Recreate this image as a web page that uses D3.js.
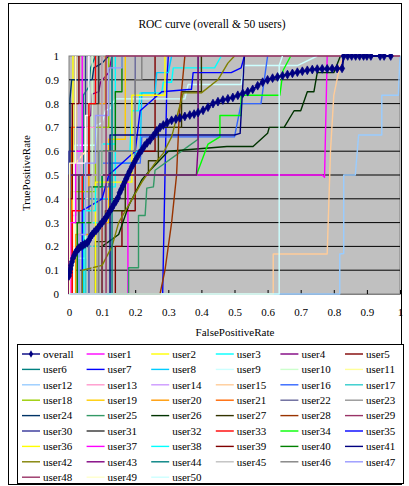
<!DOCTYPE html>
<html>
<head>
<meta charset="utf-8">
<script src="https://cdn.jsdelivr.net/npm/d3@7"></script>
<style>
body { margin: 0; background: #fff; }
svg text { font-family: "Liberation Serif", "DejaVu Serif", serif !important; }
</style>
</head>
<body>
<div id="chart"></div>
<script>
// ---- data (fpr, tpr) ----
var overall = [[0,0.076],[0.002,0.09],[0.004,0.105],[0.006,0.12],[0.009,0.135],[0.012,0.15],[0.016,0.163],[0.02,0.175],[0.025,0.185],[0.03,0.193],[0.036,0.2],[0.042,0.205],[0.048,0.21],[0.055,0.215],[0.06,0.225],[0.065,0.24],[0.07,0.25],[0.076,0.26],[0.082,0.268],[0.088,0.278],[0.094,0.29],[0.1,0.3],[0.106,0.31],[0.112,0.322],[0.118,0.335],[0.124,0.35],[0.13,0.362],[0.136,0.378],[0.142,0.39],[0.148,0.405],[0.153,0.425],[0.158,0.44],[0.163,0.455],[0.168,0.47],[0.173,0.485],[0.178,0.5],[0.183,0.515],[0.19,0.535],[0.197,0.553],[0.204,0.57],[0.212,0.59],[0.22,0.605],[0.228,0.622],[0.236,0.635],[0.245,0.647],[0.255,0.665],[0.265,0.685],[0.275,0.7],[0.285,0.71],[0.297,0.72],[0.31,0.73],[0.323,0.735],[0.335,0.74],[0.35,0.746],[0.365,0.752],[0.378,0.756],[0.39,0.762],[0.405,0.772],[0.42,0.785],[0.435,0.8],[0.45,0.808],[0.465,0.815],[0.48,0.82],[0.495,0.826],[0.51,0.835],[0.525,0.843],[0.54,0.85],[0.555,0.86],[0.57,0.875],[0.585,0.89],[0.6,0.9],[0.615,0.907],[0.63,0.912],[0.645,0.917],[0.66,0.922],[0.675,0.927],[0.69,0.932],[0.705,0.936],[0.72,0.94],[0.735,0.943],[0.75,0.945],[0.765,0.946],[0.78,0.946],[0.795,0.947],[0.81,0.947],[0.825,0.948],[0.83,1],[0.842,1],[0.854,1],[0.866,1],[0.878,1],[0.89,1],[0.9,1],[0.912,1],[0.94,1],[0.952,1],[0.972,1]];

var user1 = [[0,0],[0.178,0],[0.178,0.5],[0.765,0.5],[0.772,0.49],[0.78,1]];
var user2 = [[0,0],[0.012,0],[0.012,1]];
var user3 = [[0,0],[0.05,0],[0.05,0.3],[0.1,0.3],[0.1,0.45],[0.14,0.45],[0.14,0.6],[0.184,0.6],[0.19,0.77],[0.21,0.77],[0.215,0.845],[0.28,0.845],[0.285,0.89],[0.31,0.89],[0.315,0.95],[0.44,0.95],[0.46,1]];
var user4 = [[0,0],[0,0.33],[0.02,0.33],[0.02,0.5],[0.06,0.5],[0.06,0.745],[0.066,0.75],[0.07,0.84],[0.09,0.85],[0.095,0.89],[0.12,0.93],[0.13,1]];
var user5 = [[0,0],[0.14,0],[0.14,0.2],[0.16,0.2],[0.16,0.35],[0.2,0.35],[0.2,0.6],[0.26,0.6],[0.26,1]];
var user6 = [[0,0],[0.043,0],[0.043,0.835],[0.06,0.87],[0.065,0.95],[0.08,1]];
var user7 = [[0,0],[0.283,0],[0.29,0.5],[0.296,0.9],[0.3,1]];
var user8 = [[0,0],[0.03,0],[0.03,0.2],[0.06,0.2],[0.06,0.4],[0.13,0.4],[0.13,0.55],[0.2,0.55],[0.2,0.6],[0.215,0.6],[0.22,0.845],[0.26,0.845],[0.265,0.93],[0.3,0.93],[0.31,1]];
var user9 = [[0,0],[0.018,0],[0.018,0.625],[0.08,0.625],[0.085,0.71],[0.1,0.72],[0.11,0.77],[0.125,0.78],[0.14,0.82],[0.35,0.82],[0.36,0.88],[0.52,0.88],[0.53,0.96],[0.69,0.96],[0.75,1]];
var user10 = [[0,0],[0.015,0],[0.015,0.15],[0.05,0.15],[0.05,0.4],[0.07,0.4],[0.07,1]];
var user11 = [[0,0],[0.02,0],[0.02,0.55],[0.05,0.6],[0.05,1]];
var user12 = [[0,0],[0.818,0],[0.818,0.168],[0.83,0.17],[0.83,0.5],[0.865,0.5],[0.875,0.668],[0.945,0.668],[0.945,0.835],[0.995,0.835],[1,1]];
var user13 = [[0,0],[0.01,0],[0.01,0.3],[0.04,0.3],[0.04,0.7],[0.1,0.7],[0.1,1]];
var user14 = [[0,0],[0.005,0],[0.005,0.5],[0.03,0.5],[0.03,0.9],[0.06,0.9],[0.06,1]];
var user15 = [[0,0],[0.617,0],[0.617,0.168],[0.78,0.168],[0.79,0.6],[0.8,0.835],[0.82,0.97],[0.83,1]];
var user16 = [[0,0],[0.06,0],[0.06,0.4],[0.1,0.4],[0.1,0.55],[0.215,0.55],[0.22,0.66],[0.5,0.66],[0.52,0.8],[0.58,0.8],[0.6,1]];
var user17 = [[0,0],[0.05,0],[0.05,0.2],[0.09,0.2],[0.09,0.6],[0.13,0.6],[0.13,1]];
var user18 = [[0,0],[0.005,0],[0.005,0.43],[0.08,0.43],[0.08,0.7],[0.12,0.7],[0.12,1]];
var user19 = [[0,0],[0.1,0],[0.1,0.3],[0.12,0.3],[0.12,0.65],[0.17,0.65],[0.17,1]];
var user20 = [[0,0],[0.02,0],[0.02,0.25],[0.06,0.25],[0.06,0.8],[0.11,0.8],[0.11,1]];
var user21 = [[0,0],[0.008,0],[0.008,0.7],[0.02,0.7],[0.02,1]];
var user22 = [[0,0],[0.06,0],[0.06,0.45],[0.12,0.45],[0.12,0.6],[0.2,0.6],[0.2,1]];
var user23 = [[0,0],[0.088,0],[0.088,1]];
var user24 = [[0,0],[0.003,0],[0.003,0.82],[0.008,0.9],[0.07,0.9],[0.075,0.95],[0.1,0.97],[0.12,1]];
var user25 = [[0,0],[0.18,0],[0.18,0.11],[0.21,0.11],[0.21,0.33],[0.23,0.33],[0.235,0.445],[0.255,0.45],[0.26,0.52],[0.36,0.62],[0.39,0.65],[0.39,1]];
var user26 = [[0,0],[0.1,0],[0.1,0.2],[0.15,0.25],[0.18,0.37],[0.22,0.48],[0.245,0.52],[0.3,0.6],[0.477,0.62],[0.556,0.62],[0.6,0.675],[0.605,0.7],[0.65,0.7],[0.68,0.77],[0.7,0.77],[0.72,0.85],[0.74,0.85],[0.75,0.93],[0.8,0.93],[0.82,1]];
var user27 = [[0,0],[0.08,0],[0.08,0.22],[0.11,0.22],[0.11,0.35],[0.17,0.35],[0.17,0.5],[0.24,0.5],[0.24,0.56],[0.27,0.56],[0.27,0.7],[0.34,0.7],[0.34,0.85],[0.4,0.85],[0.4,1]];
var user28 = [[0,0],[0.275,0],[0.29,0.1],[0.31,0.3],[0.325,0.5],[0.333,0.75],[0.35,1]];
var user29 = [[0,0],[0.1,0],[0.1,1]];
var user30 = [[0,0],[0,0.6],[0.02,0.6],[0.02,0.7],[0.05,0.7],[0.05,1]];
var user31 = [[0,0],[0,0.1],[0.01,0.1],[0.01,0.3],[0.03,0.3],[0.03,0.5],[0.06,0.5],[0.06,0.8],[0.09,0.8],[0.09,1]];
var user32 = [[0,0],[0.015,0],[0.015,0.55],[0.05,0.55],[0.05,0.75],[0.06,0.75],[0.06,1]];
var user33 = [[0,0],[0.01,0],[0.01,0.35],[0.04,0.35],[0.04,0.5],[0.06,0.5],[0.06,0.8],[0.08,0.8],[0.08,1]];
var user34 = [[0,0],[0,0.5],[0.385,0.5],[0.42,0.63],[0.456,0.66],[0.456,0.75],[0.52,0.75],[0.52,0.835],[0.637,0.835],[0.647,0.94],[0.67,1]];
var user35 = [[0,0],[0.04,0],[0.04,0.35],[0.1,0.4],[0.12,0.5],[0.2,0.6],[0.215,0.77],[0.28,0.85],[0.37,0.86],[0.375,0.93],[0.49,0.93],[0.52,0.95],[0.53,1]];
var user36 = [[0,0],[0.08,0],[0.08,0.47],[0.19,0.47],[0.19,0.835],[0.29,0.835],[0.29,1]];
var user37 = [[0,0],[0.005,0],[0.005,0.3],[0.02,0.3],[0.02,0.6],[0.04,0.6],[0.04,1]];
var user38 = [[0,0],[0.045,0],[0.045,0.35],[0.08,0.35],[0.08,0.45],[0.1,0.45],[0.1,0.63],[0.14,0.63],[0.14,1]];
var user39 = [[0,0],[0,0.4],[0.01,0.4],[0.01,0.8],[0.03,0.8],[0.03,1]];
var user40 = [[0,0],[0.025,0],[0.025,0.3],[0.07,0.3],[0.07,0.45],[0.1,0.45],[0.1,0.6],[0.14,0.6],[0.14,0.85],[0.16,0.85],[0.16,1]];
var user41 = [[0,0],[0.124,0],[0.124,0.668],[0.5,0.668],[0.517,0.675],[0.53,1]];
var user42 = [[0,0],[0.04,0],[0.04,0.1],[0.1,0.12],[0.13,0.2],[0.15,0.3],[0.22,0.47],[0.26,0.55],[0.284,0.59],[0.31,0.66],[0.345,0.845],[0.4,0.845],[0.45,0.9],[0.48,0.97],[0.5,1]];
var user43 = [[0,0],[0,0.5],[0.385,0.5],[0.39,0.62],[0.39,1]];
var user44 = [[0,0],[0.13,0],[0.13,1]];
var user45 = [[0,0],[0.07,0],[0.07,0.5],[0.1,0.5],[0.1,1]];
var user46 = [[0,0],[0.09,0],[0.09,0.6],[0.2,0.6],[0.2,0.9],[0.22,0.9],[0.22,1]];
var user47 = [[0,0],[0.03,0],[0.03,0.25],[0.05,0.25],[0.05,0.55],[0.08,0.55],[0.08,0.75],[0.12,0.75],[0.12,0.95],[0.16,0.95],[0.16,1]];
var user48 = [[0,0],[0.112,0],[0.112,1],[1,1]];
var user49 = [[0,0],[0.002,0],[0.002,0.55],[0.02,0.55],[0.02,1]];
var user50 = [[0,0],[0.635,0],[0.635,0.96],[0.645,1]];

var users = [user1,user2,user3,user4,user5,user6,user7,user8,user9,user10,user11,user12,user13,user14,user15,user16,user17,user18,user19,user20,user21,user22,user23,user24,user25,user26,user27,user28,user29,user30,user31,user32,user33,user34,user35,user36,user37,user38,user39,user40,user41,user42,user43,user44,user45,user46,user47,user48,user49,user50];

var seriesNames = ["overall"].concat(users.map(function(d, i) { return "user" + (i + 1); }));

var xTicks = [0,0.1,0.2,0.3,0.4,0.5,0.6,0.7,0.8,0.9,1];
var xTickLabels = ["0","0.1","0.2","0.3","0.4","0.5","0.6","0.7","0.8","0.9","1"];
var yTicks = [0,0.1,0.2,0.3,0.4,0.5,0.6,0.7,0.8,0.9,1];
var yTickLabels = ["0","0.1","0.2","0.3","0.4","0.5","0.6","0.7","0.8","0.9","1"];

// excel style palette, overall first
var palette = ["#000080","#FF00FF","#FFFF00","#00FFFF","#800080","#800000","#008080","#0000FF",
  "#00CCFF","#CCFFFF","#CCFFCC","#FFFF99","#99CCFF","#FF99CC","#CC99FF","#FFCC99",
  "#3366FF","#33CCCC","#99CC00","#FFCC00","#FF9900","#FF6600","#666699","#969696",
  "#003366","#339966","#003300","#333300","#993300","#993366","#333399","#333333",
  "#FFFFFF","#FF0000","#00FF00","#0000FF","#FFFF00","#FF00FF","#00FFFF","#800000",
  "#008000","#000080","#808000","#800080","#008080","#C0C0C0","#808080","#9999FF",
  "#993366","#FFFFCC","#CCFFFF"];

var serif = "'Liberation Serif', 'DejaVu Serif', serif";

// ---- layout ----
var width = 409, height = 486;
var plot = {left: 69, right: 400, top: 56, bottom: 294};

var svg = d3.select("#chart")
  .append("svg")
  .attr("width", width)
  .attr("height", height)
  .attr("font-family", serif);

// outer frame
svg.append("rect")
  .attr("x", 8.5).attr("y", 3.5)
  .attr("width", 393).attr("height", 481)
  .attr("fill", "none").attr("stroke", "#000");

// title
svg.append("text")
  .attr("x", 212).attr("y", 28)
  .attr("text-anchor", "middle")
  .style("font-size", "11.5px")
  .text("ROC curve (overall & 50 users)");

var x = d3.scaleLinear().domain([0, 1]).range([plot.left, plot.right]);
var y = d3.scaleLinear().domain([0, 1]).range([plot.bottom, plot.top]);

// plot area
svg.append("rect")
  .attr("x", plot.left).attr("y", plot.top)
  .attr("width", plot.right - plot.left).attr("height", plot.bottom - plot.top)
  .attr("fill", "#C0C0C0").attr("stroke", "#808080");

// horizontal gridlines
svg.append("g")
  .selectAll("line")
  .data(yTicks.slice(1, -1)).enter().append("line")
  .attr("x1", plot.left).attr("x2", plot.right)
  .attr("y1", function(d) { return y(d); })
  .attr("y2", function(d) { return y(d); })
  .attr("stroke", "#000").attr("stroke-width", 1);

// X axis
var xAxis = svg.append("g")
  .attr("transform", "translate(0," + plot.bottom + ")")
  .call(d3.axisBottom(x).tickValues(xTicks)
    .tickFormat(function(d, i) { return xTickLabels[i]; })
    .tickSizeInner(-4).tickSizeOuter(0).tickPadding(14));
xAxis.attr("font-family", serif);
xAxis.select(".domain").attr("stroke", "#808080");
xAxis.selectAll("text").style("font-size", "11px").attr("fill", "#000");

// Y axis
var yAxis = svg.append("g")
  .attr("transform", "translate(" + plot.left + ",0)")
  .call(d3.axisLeft(y).tickValues(yTicks)
    .tickFormat(function(d, i) { return yTickLabels[i]; })
    .tickSize(0).tickPadding(10));
yAxis.attr("font-family", serif);
yAxis.select(".domain").remove();
yAxis.selectAll("text").style("font-size", "11px").attr("fill", "#000");

// axis titles
svg.append("text")
  .attr("x", 235).attr("y", 336)
  .attr("text-anchor", "middle")
  .style("font-size", "11px")
  .text("FalsePositiveRate");

svg.append("text")
  .attr("transform", "translate(30,173) rotate(-90)")
  .attr("text-anchor", "middle")
  .style("font-size", "11px")
  .text("TruePositiveRate");

// lines
var line = d3.line()
  .x(function(d) { return x(d[0]); })
  .y(function(d) { return y(d[1]); });

svg.append("clipPath").attr("id", "plotclip")
  .append("rect")
  .attr("x", plot.left - 1).attr("y", plot.top - 2)
  .attr("width", plot.right - plot.left + 2).attr("height", plot.bottom - plot.top + 3);

var lines = svg.append("g").attr("clip-path", "url(#plotclip)");

// users in series order, later ones on top
lines.selectAll("path.user")
  .data(users).enter().append("path")
  .attr("class", "user")
  .attr("d", function(d) { return line(d); })
  .attr("fill", "none")
  .attr("stroke", function(d, i) { return palette[i + 1]; })
  .attr("stroke-width", 1.4)
  .attr("stroke-linejoin", "round");

// overall on top
lines.append("path")
  .attr("d", line.curve(d3.curveMonotoneX)(overall))
  .attr("fill", "none")
  .attr("stroke", palette[0])
  .attr("stroke-width", 2);

lines.selectAll("path.marker")
  .data(overall).enter().append("path")
  .attr("class", "marker")
  .attr("transform", function(d) { return "translate(" + x(d[0]) + "," + y(d[1]) + ")"; })
  .attr("d", d3.symbol().type(d3.symbolDiamond).size(22))
  .attr("fill", palette[0])
  .attr("stroke", palette[0])
  .attr("stroke-width", 0.8);

// legend
var legend = {left: 17, top: 344, right: 403, bottom: 483, row: 15.4, col: 64.6};
svg.append("rect")
  .attr("x", legend.left + 0.5).attr("y", legend.top + 0.5)
  .attr("width", legend.right - legend.left).attr("height", legend.bottom - legend.top)
  .attr("fill", "#fff").attr("stroke", "#000");

var entries = svg.append("g")
  .selectAll("g")
  .data(seriesNames).enter().append("g")
  .attr("transform", function(d, i) {
    return "translate(" + (legend.left + 5 + (i % 6) * legend.col) + "," +
      (legend.top + 10 + Math.floor(i / 6) * legend.row) + ")";
  });

entries.append("line")
  .attr("x1", 0).attr("x2", 18)
  .attr("y1", 0).attr("y2", 0)
  .attr("stroke", function(d, i) { return palette[i]; })
  .attr("stroke-width", 1.4);

entries.filter(function(d, i) { return i === 0; })
  .append("path")
  .attr("transform", "translate(9,0)")
  .attr("d", d3.symbol().type(d3.symbolDiamond).size(16))
  .attr("fill", palette[0]);

entries.append("text")
  .attr("x", 21).attr("y", 0).attr("dy", "0.35em")
  .style("font-size", "11px")
  .text(function(d) { return d; });
</script>
</body>
</html>
